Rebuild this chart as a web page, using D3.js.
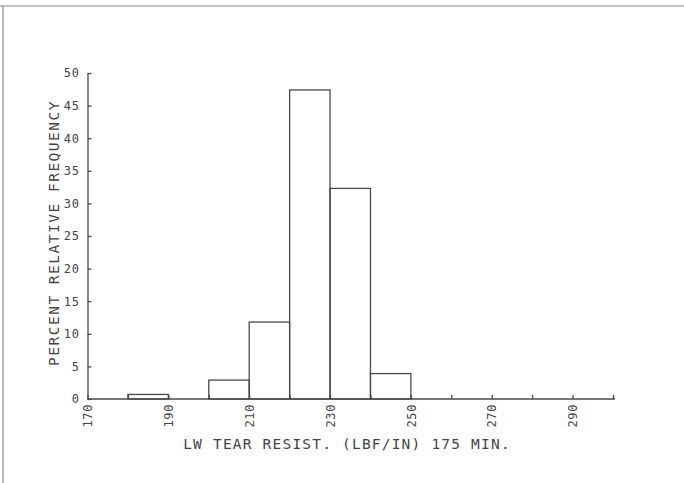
<!DOCTYPE html>
<html>
<head>
<meta charset="utf-8">
<script src="https://cdn.jsdelivr.net/npm/d3@7"></script>
<style>
  html, body { margin: 0; padding: 0; background: #fff; }
  svg text { font-family: "DejaVu Sans Mono", "Liberation Mono", monospace; fill: #444; }
</style>
</head>
<body>
<svg id="chart" width="684" height="483"></svg>
<script>
// Data
const binStarts = [170, 180, 190, 200, 210, 220, 230, 240];
const binEnds   = [180, 190, 200, 210, 220, 230, 240, 250];
const percents  = [0, 0.7, 0, 2.9, 11.8, 47.4, 32.3, 3.9];
const xTickValues = [170, 180, 190, 200, 210, 220, 230, 240, 250, 260, 270, 280, 290, 300];
const xTickLabels = ["170", "190", "210", "230", "250", "270", "290"];
const yTickValues = [0, 5, 10, 15, 20, 25, 30, 35, 40, 45, 50];
const xTitle = "LW TEAR RESIST. (LBF/IN) 175 MIN.";
const yTitle = "PERCENT RELATIVE FREQUENCY";

const svg = d3.select("#chart");
const ink = "#4a4a4a";

// frame lines of scanned page
svg.append("line").attr("x1", 0).attr("x2", 684).attr("y1", 6).attr("y2", 6)
  .attr("stroke", "#888").attr("stroke-width", 1.2);
svg.append("line").attr("x1", 3).attr("x2", 3).attr("y1", 6).attr("y2", 483)
  .attr("stroke", "#888").attr("stroke-width", 1.2);

const x = d3.scaleLinear().domain([170, 300]).range([87.5, 613]);
const y = d3.scaleLinear().domain([0, 50]).range([399, 73]);

// bars
const bars = binStarts.map((s, i) => ({ s, e: binEnds[i], v: percents[i] })).filter(d => d.v > 0);
svg.append("g").selectAll("rect").data(bars).join("rect")
  .attr("x", d => x(d.s))
  .attr("y", d => y(d.v))
  .attr("width", d => x(d.e) - x(d.s))
  .attr("height", d => y(0) - y(d.v))
  .attr("fill", "none")
  .attr("stroke", ink)
  .attr("stroke-width", 1.3);

// y axis
const yAxis = d3.axisLeft(y).tickValues(yTickValues).tickSizeInner(-4).tickSizeOuter(0).tickPadding(8)
  .tickFormat(d3.format("d"));
const gy = svg.append("g").attr("transform", `translate(${x(170)},0)`).call(yAxis);
gy.select(".domain").attr("stroke", ink).attr("stroke-width", 1.3);
gy.selectAll(".tick line").attr("stroke", ink).attr("stroke-width", 1.3);
gy.selectAll(".tick text").attr("font-size", 12).attr("letter-spacing", 0.6).attr("fill", "#444")
  .attr("font-family", "DejaVu Sans Mono");

// x axis
const xAxis = d3.axisBottom(x).tickValues(xTickValues).tickSizeInner(-4).tickSizeOuter(0)
  .tickFormat(d => xTickLabels.includes(String(d)) ? String(d) : "");
const gx = svg.append("g").attr("transform", `translate(0,${y(0)})`).call(xAxis);
gx.select(".domain").attr("stroke", ink).attr("stroke-width", 1.3)
  .attr("d", `M${x(170)},0H${x(300) + 2}`);
gx.selectAll(".tick line").attr("stroke", ink).attr("stroke-width", 1.3);
gx.selectAll(".tick text")
  .attr("font-size", 12).attr("letter-spacing", 0.6).attr("fill", "#444")
  .attr("font-family", "DejaVu Sans Mono")
  .attr("text-anchor", "end")
  .attr("dy", "0.35em")
  .attr("transform", "translate(0,5) rotate(-90)")
  .attr("x", 0).attr("y", 0);

// titles
svg.append("text")
  .attr("x", 347).attr("y", 449)
  .attr("text-anchor", "middle")
  .attr("font-size", 14.5).attr("letter-spacing", 1.2)
  .text(xTitle);

svg.append("text")
  .attr("transform", `translate(59,233) rotate(-90)`)
  .attr("text-anchor", "middle")
  .attr("font-size", 14.5).attr("letter-spacing", 1.5)
  .text(yTitle);
</script>
</body>
</html>
